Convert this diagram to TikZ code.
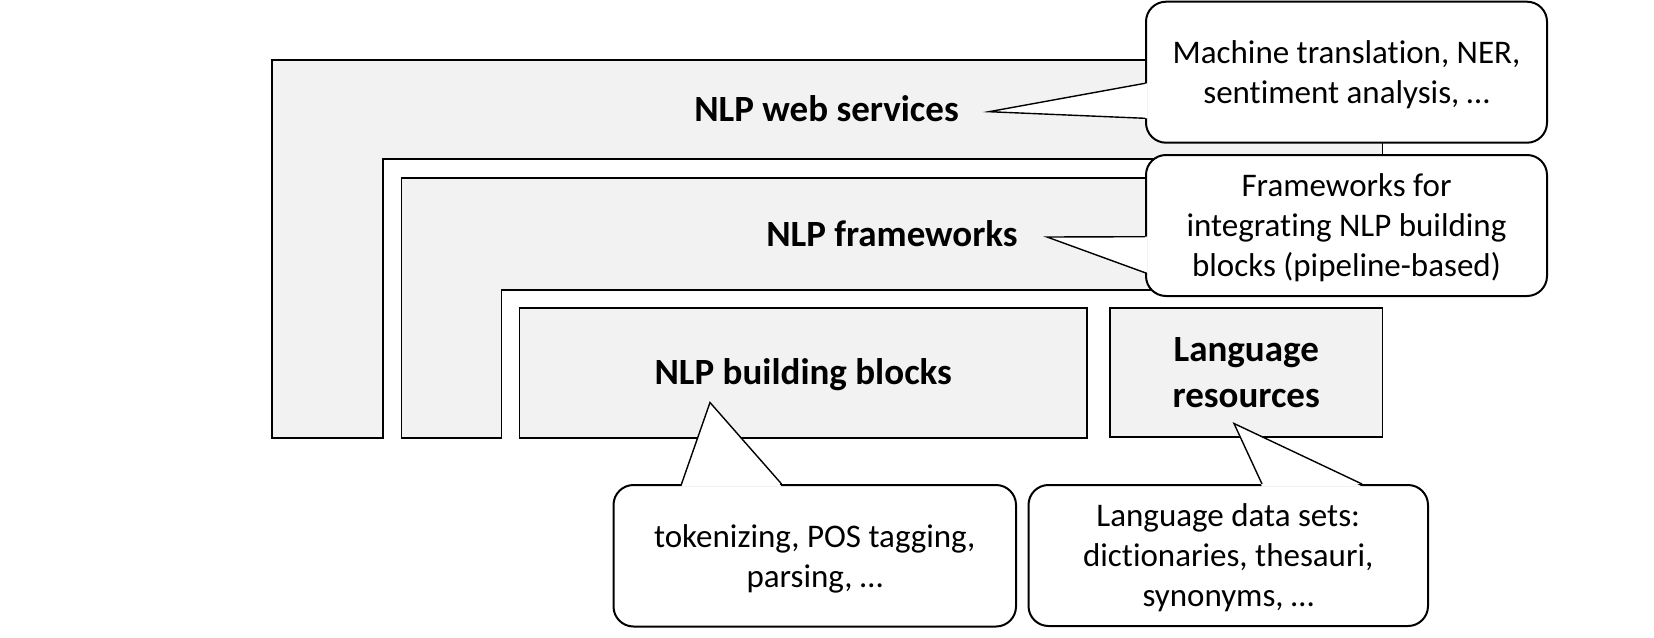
\documentclass[tikz,border=0pt]{standalone}
\usepackage{fontspec}
\setmainfont{Carlito}[Ligatures={NoCommon,NoContextual}]
\usetikzlibrary{calc}
\definecolor{boxgrey}{HTML}{F2F2F2}
\begin{document}
\begin{tikzpicture}[x=1pt,y=-1pt]
\tikzset{
  layer/.style={fill=boxgrey, draw=black, line width=1.8pt, line join=miter},
  blockbox/.style={layer, rectangle, inner sep=0pt, align=center,
    font=\fontsize{37}{45.5}\selectfont\bfseries},
  lbl/.style={font=\fontsize{37}{45.5}\selectfont\bfseries, inner sep=0pt},
  callout/.style={rectangle, rounded corners=20pt, draw=black, fill=white,
    line width=2pt, inner sep=0pt, align=center, text depth=0pt,
    font=\fontsize{33}{40}\selectfont},
  ptr/.style={draw=black, line width=1.4pt, line join=miter},
}
\useasboundingbox (0,0) rectangle (1654,637);

% outer layer: NLP web services
\draw[layer] (272,60) -- (1382.4,60) -- (1382.4,159.3) -- (383.3,159.3)
  -- (383.3,437.7) -- (272,437.7) -- cycle;
% middle layer: NLP frameworks
\draw[layer] (401.5,177.7) -- (1382.4,177.7) -- (1382.4,289.7) -- (501.5,289.7)
  -- (501.5,437.7) -- (401.5,437.7) -- cycle;
% inner boxes
\node[blockbox, minimum width=567.6pt, minimum height=130pt,
  text height=23pt, text depth=0pt] (bb) at (803.2,372.7) {NLP building blocks};
\node[blockbox, minimum width=272.4pt, minimum height=129.3pt] (lr) at (1246.2,372.4)
  {Language\\resources};

% labels
\node[lbl, anchor=base] (ws) at (826.6,121.7) {NLP web services};
\node[lbl, anchor=base] (fw) at (892,246.7) {NLP frameworks};

% callout 1
\node[callout, minimum width=401pt, minimum height=141pt] (c1) at (1346.5,72.2)
  {Machine translation, NER,\\sentiment analysis, …};
\coordinate (t1) at (989,111.7);
\fill[white] ($(c1.west)+(2.5,11.1)$) -- (t1) -- ($(c1.west)+(2.5,46.1)$) -- cycle;
\draw[ptr] ($(c1.west)+(0,11.1)$) -- (t1) -- ($(c1.west)+(0,46.1)$);

% callout 2
\node[callout, minimum width=401pt, minimum height=141pt] (c2) at (1346.5,225.5)
  {Frameworks for\\integrating NLP building\\blocks (pipeline-based)};
\coordinate (t2) at (1047,237);
\fill[white] ($(c2.west)+(2.5,11.2)$) -- (t2) -- ($(c2.west)+(2.5,47.2)$) -- cycle;
\draw[ptr] ($(c2.west)+(0,11.2)$) -- (t2) -- ($(c2.west)+(0,47.2)$);

% callout 3
\node[callout, minimum width=402.5pt, minimum height=141.5pt] (c3) at (814.75,555.75)
  {tokenizing, POS tagging,\\parsing, …};
\coordinate (t3) at (710,402.5);
\fill[white] ($(c3.north)+(-133.25,2.5)$) -- (t3) -- ($(c3.north)+(-33.15,2.5)$) -- cycle;
\draw[ptr] ($(c3.north)+(-133.25,0)$) -- (t3) -- ($(c3.north)+(-33.15,0)$);

% callout 4
\node[callout, minimum width=399.5pt, minimum height=141pt] (c4) at (1228.25,555.5)
  {Language data sets:\\dictionaries, thesauri,\\synonyms, …};
\coordinate (t4) at (1234,423.5);
\fill[white] ($(c4.north)+(33.75,2.5)$) -- (t4) -- ($(c4.north)+(133.75,2.5)$) -- cycle;
\draw[ptr] ($(c4.north)+(33.75,0)$) -- (t4) -- ($(c4.north)+(133.75,0)$);
\end{tikzpicture}
\end{document}
